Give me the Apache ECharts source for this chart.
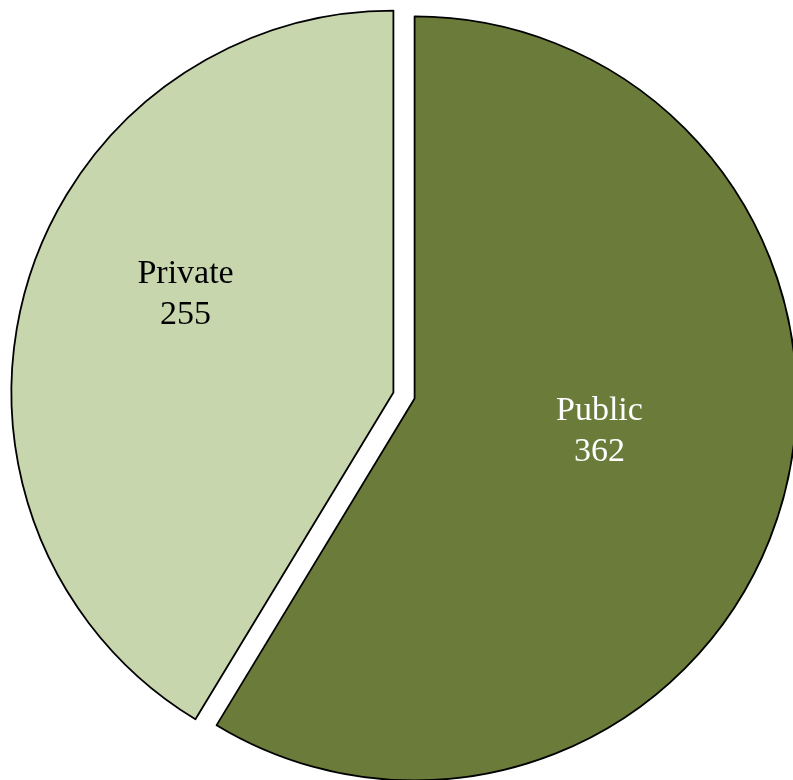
<!DOCTYPE html>
<html>
<head>
<meta charset="utf-8">
<script src="https://cdn.jsdelivr.net/npm/echarts@6/dist/echarts.min.js"></script>
<style>
  html, body { margin: 0; padding: 0; background: #fff; }
  #main { width: 793px; height: 780px; }
</style>
</head>
<body>
<div id="main"></div>
<script>
// slice data, clockwise from 12 o'clock
var names = ['Public', 'Private'];
var values = [362, 255];
var colors = ['#6A7B3A', '#C8D6AE'];
var labelColors = ['#FFFFFF', '#000000'];
// nudge labels toward where the original puts them
var labelShift = [[-2, -19], [-21, -46]];

var chart = echarts.init(document.getElementById('main'), null, { renderer: 'canvas' });

var pieData = names.map(function (n, i) {
  return {
    name: n,
    value: values[i],
    selected: true,
    itemStyle: { color: colors[i] },
    label: { color: labelColors[i] }
  };
});

var option = {
  animation: false,
  series: [{
    type: 'pie',
    center: [404, 395.5],
    radius: 382,
    startAngle: 90,
    clockwise: true,
    selectedMode: 'multiple',
    selectedOffset: 11,
    itemStyle: { borderColor: '#000', borderWidth: 1.8 },
    select: { itemStyle: { borderColor: '#000', borderWidth: 1.8 } },
    emphasis: { disabled: true },
    label: {
      show: true,
      position: 'inside',
      formatter: '{b}\n{c}',
      fontFamily: 'Liberation Serif',
      fontSize: 34,
      lineHeight: 41,
      align: 'center'
    },
    labelLine: { show: false },
    labelLayout: function (params) {
      var s = labelShift[params.dataIndex];
      return { dx: s[0], dy: s[1] };
    },
    data: pieData
  }]
};

chart.setOption(option);
</script>
</body>
</html>
